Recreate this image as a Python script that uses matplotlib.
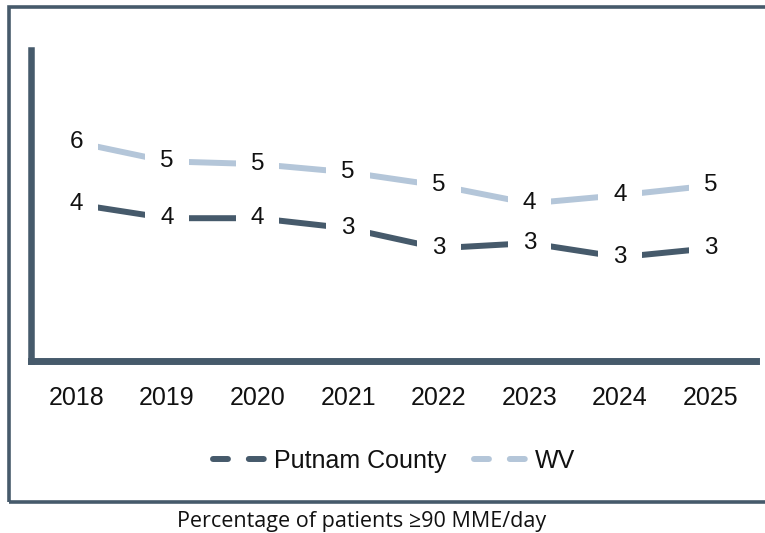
import matplotlib.pyplot as plt
from matplotlib.lines import Line2D
from matplotlib.patches import Rectangle
import numpy as np

years = ["2018", "2019", "2020", "2021", "2022", "2023", "2024", "2025"]
putnam = [4.04, 3.68, 3.68, 3.42, 2.91, 3.04, 2.68, 2.91]
wv = [5.63, 5.14, 5.07, 4.86, 4.52, 4.06, 4.27, 4.52]

dark = "#465A6B"
light = "#B4C6D9"

plt.rcParams['font.family'] = ['Liberation Sans', 'DejaVu Sans']

fig = plt.figure(figsize=(7.65, 5.33), dpi=100)
ax = fig.add_axes([0.0405, 0.3218, 0.9477, 0.5844])

x = np.arange(len(years))
ax.plot(x, wv, color=light, lw=4.3, solid_capstyle='butt', zorder=2)
ax.plot(x, putnam, color=dark, lw=4.3, solid_capstyle='butt', zorder=2)

# data labels with white boxes cut gaps into the lines
for xs, ys in [(x, wv), (x, putnam)]:
    for xi, yi in zip(xs, ys):
        ax.text(xi, yi, f"{round(yi):d}", ha='center', va='center', fontsize=17.5,
                color='#111111', zorder=3,
                bbox=dict(boxstyle='square,pad=0.62', fc='white', ec='none'))

ax.set_xlim(-0.5, len(years) - 0.5)
ax.set_ylim(0, 8)
ax.set_xticks(x)
ax.set_xticklabels(years, fontsize=18, color='#111111')
ax.set_yticks([])
ax.tick_params(axis='x', length=0, pad=17.5)
for s in ['top', 'right']:
    ax.spines[s].set_visible(False)
ax.spines['left'].set_color(dark)
ax.spines['left'].set_linewidth(4.7)
ax.spines['bottom'].set_color(dark)
ax.spines['bottom'].set_linewidth(5)

h1 = Line2D([], [], color=dark, lw=4.3, dashes=(2.5, 3.5), dash_capstyle='round')
h2 = Line2D([], [], color=light, lw=4.3, dashes=(2.5, 3.5), dash_capstyle='round')
fig.legend([h1, h2], ["Putnam County", "WV"], loc='center', bbox_to_anchor=(394 / 765, 1 - 461 / 533),
           ncol=2, frameon=False, fontsize=18, handlelength=2.28, handletextpad=0.16,
           columnspacing=1.1, labelcolor='#111111')

# outer frame (cut off at the right edge)
frame = Rectangle((9 / 765, 1 - 502 / 533), 1.0, (502 - 7) / 533, transform=fig.transFigure,
                  fill=False, ec=dark, lw=2.6, clip_on=False)
fig.add_artist(frame)

fig.text(362 / 765, 1 - 521 / 533, "Percentage of patients ≥90 MME/day", ha='center', va='center',
         fontsize=15.5, family=['Open Sans', 'DejaVu Sans'], color='#111111')

fig.savefig('out.png', dpi=100)
